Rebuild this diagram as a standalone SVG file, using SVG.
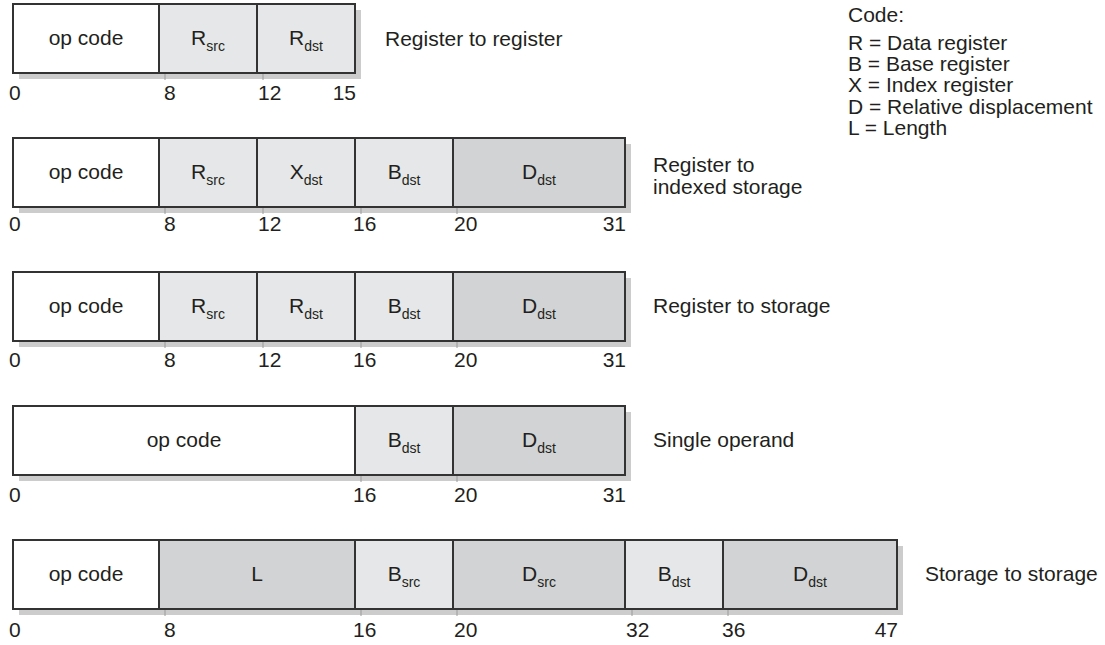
<svg xmlns="http://www.w3.org/2000/svg" width="1105" height="645" viewBox="0 0 1105 645">
<defs>
<style>
text{font-family:"Liberation Sans",Arial,sans-serif;font-size:21px;fill:#231f20}
.sub{font-size:14px}
.sh{fill:#cccccc}
.op{fill:#ffffff;stroke:#333;stroke-width:2}
.lt{fill:#e6e7e8;stroke:#333;stroke-width:2}
.md{fill:#d1d3d4;stroke:#333;stroke-width:2}
.tk{stroke:#9a9a9a;stroke-width:1}
.fl{text-anchor:middle}
.e{text-anchor:end}
</style>
</defs>
<rect width="1105" height="645" fill="#fff"/>

<!-- Row 1: Register to register -->
<g id="fmt-rr">
<rect class="sh" x="19" y="10" width="342" height="69"/>
<g id="rr-op"><rect class="op" x="13" y="4" width="146" height="69"/><text class="fl" x="86" y="45">op code</text></g>
<g id="rr-rsrc"><rect class="lt" x="159" y="4" width="98" height="69"/><text class="fl" x="208" y="45">R<tspan class="sub" dy="6">src</tspan></text></g>
<g id="rr-rdst"><rect class="lt" x="257" y="4" width="98" height="69"/><text class="fl" x="306" y="45">R<tspan class="sub" dy="6">dst</tspan></text></g>
<text x="9" y="100">0</text><text x="164" y="100">8</text><text x="258" y="100">12</text><text class="e" x="356" y="100">15</text>
<text x="385" y="46">Register to register</text>
</g>

<!-- Row 2: Register to indexed storage -->
<g id="fmt-rx">
<rect class="sh" x="19" y="144" width="612" height="69"/>
<g id="rx-op"><rect class="op" x="13" y="138" width="146" height="69"/><text class="fl" x="86" y="179">op code</text></g>
<g id="rx-rsrc"><rect class="lt" x="159" y="138" width="98" height="69"/><text class="fl" x="208" y="179">R<tspan class="sub" dy="6">src</tspan></text></g>
<g id="rx-xdst"><rect class="lt" x="257" y="138" width="98" height="69"/><text class="fl" x="306" y="179">X<tspan class="sub" dy="6">dst</tspan></text></g>
<g id="rx-bdst"><rect class="lt" x="355" y="138" width="98" height="69"/><text class="fl" x="404" y="179">B<tspan class="sub" dy="6">dst</tspan></text></g>
<g id="rx-ddst"><rect class="md" x="453" y="138" width="172" height="69"/><text class="fl" x="539" y="179">D<tspan class="sub" dy="6">dst</tspan></text></g>
<text x="9" y="231">0</text><text x="164" y="231">8</text><text x="258" y="231">12</text><text x="353" y="231">16</text><text x="454" y="231">20</text><text class="e" x="626" y="231">31</text>
<text x="653" y="172">Register to</text><text x="653" y="194">indexed storage</text>
</g>

<!-- Row 3: Register to storage -->
<g id="fmt-rs">
<rect class="sh" x="19" y="278" width="612" height="69"/>
<g id="rs-op"><rect class="op" x="13" y="272" width="146" height="69"/><text class="fl" x="86" y="313">op code</text></g>
<g id="rs-rsrc"><rect class="lt" x="159" y="272" width="98" height="69"/><text class="fl" x="208" y="313">R<tspan class="sub" dy="6">src</tspan></text></g>
<g id="rs-rdst"><rect class="lt" x="257" y="272" width="98" height="69"/><text class="fl" x="306" y="313">R<tspan class="sub" dy="6">dst</tspan></text></g>
<g id="rs-bdst"><rect class="lt" x="355" y="272" width="98" height="69"/><text class="fl" x="404" y="313">B<tspan class="sub" dy="6">dst</tspan></text></g>
<g id="rs-ddst"><rect class="md" x="453" y="272" width="172" height="69"/><text class="fl" x="539" y="313">D<tspan class="sub" dy="6">dst</tspan></text></g>
<text x="9" y="367">0</text><text x="164" y="367">8</text><text x="258" y="367">12</text><text x="353" y="367">16</text><text x="454" y="367">20</text><text class="e" x="626" y="367">31</text>
<text x="653" y="313">Register to storage</text>
</g>

<!-- Row 4: Single operand -->
<g id="fmt-s">
<rect class="sh" x="19" y="412" width="612" height="69"/>
<g id="s-op"><rect class="op" x="13" y="406" width="342" height="69"/><text class="fl" x="184" y="447">op code</text></g>
<g id="s-bdst"><rect class="lt" x="355" y="406" width="98" height="69"/><text class="fl" x="404" y="447">B<tspan class="sub" dy="6">dst</tspan></text></g>
<g id="s-ddst"><rect class="md" x="453" y="406" width="172" height="69"/><text class="fl" x="539" y="447">D<tspan class="sub" dy="6">dst</tspan></text></g>
<text x="9" y="502">0</text><text x="353" y="502">16</text><text x="454" y="502">20</text><text class="e" x="626" y="502">31</text>
<text x="653" y="447">Single operand</text>
</g>

<!-- Row 5: Storage to storage -->
<g id="fmt-ss">
<rect class="sh" x="19" y="546" width="884" height="69"/>
<g id="ss-op"><rect class="op" x="13" y="540" width="146" height="69"/><text class="fl" x="86" y="581">op code</text></g>
<g id="ss-l"><rect class="md" x="159" y="540" width="196" height="69"/><text class="fl" x="257" y="581">L</text></g>
<g id="ss-bsrc"><rect class="lt" x="355" y="540" width="98" height="69"/><text class="fl" x="404" y="581">B<tspan class="sub" dy="6">src</tspan></text></g>
<g id="ss-dsrc"><rect class="md" x="453" y="540" width="172" height="69"/><text class="fl" x="539" y="581">D<tspan class="sub" dy="6">src</tspan></text></g>
<g id="ss-bdst"><rect class="lt" x="625" y="540" width="98" height="69"/><text class="fl" x="674" y="581">B<tspan class="sub" dy="6">dst</tspan></text></g>
<g id="ss-ddst"><rect class="md" x="723" y="540" width="174" height="69"/><text class="fl" x="810" y="581">D<tspan class="sub" dy="6">dst</tspan></text></g>
<text x="9" y="637">0</text><text x="164" y="637">8</text><text x="353" y="637">16</text><text x="454" y="637">20</text><text x="626" y="637">32</text><text x="722" y="637">36</text><text class="e" x="898" y="637">47</text>
<text x="925" y="581">Storage to storage</text>
</g>

<!-- bit position ticks -->
<g id="connectors">
<line class="tk" x1="165" y1="74" x2="165" y2="80"/><line class="tk" x1="263" y1="74" x2="263" y2="80"/>
<line class="tk" x1="165" y1="208" x2="165" y2="214"/><line class="tk" x1="263" y1="208" x2="263" y2="214"/><line class="tk" x1="361" y1="208" x2="361" y2="214"/><line class="tk" x1="457" y1="208" x2="457" y2="214"/>
<line class="tk" x1="165" y1="342" x2="165" y2="348"/><line class="tk" x1="263" y1="342" x2="263" y2="348"/><line class="tk" x1="361" y1="342" x2="361" y2="348"/><line class="tk" x1="457" y1="342" x2="457" y2="348"/>
<line class="tk" x1="361" y1="476" x2="361" y2="482"/><line class="tk" x1="457" y1="476" x2="457" y2="482"/>
<line class="tk" x1="165" y1="610" x2="165" y2="616"/><line class="tk" x1="361" y1="610" x2="361" y2="616"/><line class="tk" x1="457" y1="610" x2="457" y2="616"/><line class="tk" x1="632" y1="610" x2="632" y2="616"/><line class="tk" x1="728" y1="610" x2="728" y2="616"/>
</g>

<!-- Legend -->
<g id="legend">
<text x="848" y="22">Code:</text>
<text x="848" y="50">R = Data register</text>
<text x="848" y="71">B = Base register</text>
<text x="848" y="92">X = Index register</text>
<text x="848" y="114">D = Relative displacement</text>
<text x="848" y="135">L = Length</text>
</g>
</svg>
